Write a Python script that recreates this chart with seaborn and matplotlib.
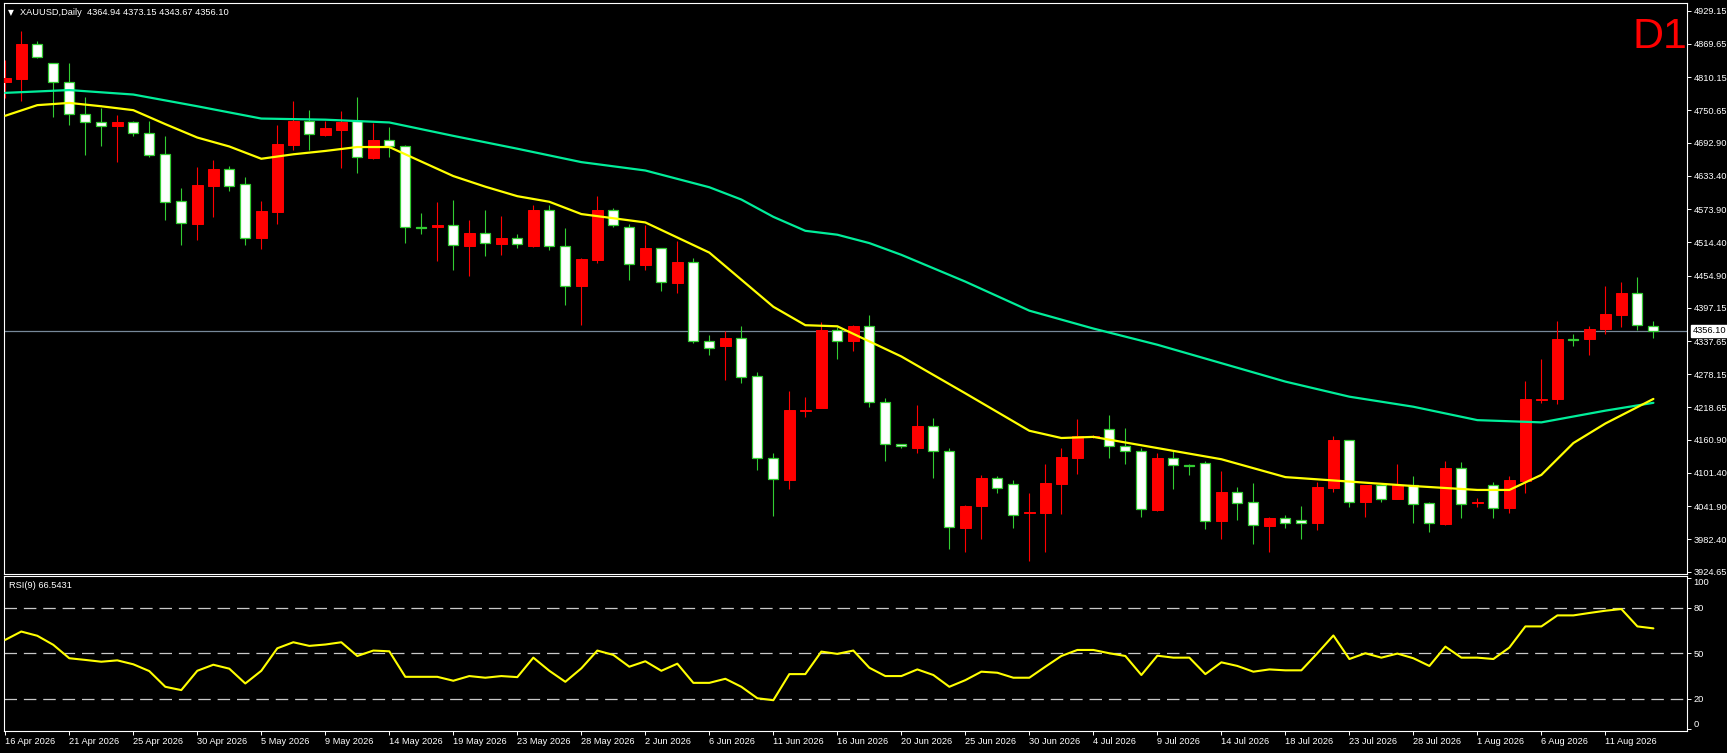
import numpy as np
import matplotlib
matplotlib.use("Agg")
import matplotlib.pyplot as plt
import matplotlib.transforms as mtransforms
import seaborn as sns

# DATA (one value per daily bar)

opens = [4801, 4807, 4870, 4835, 4801, 4744, 4729, 4722, 4729, 4710,
         4672, 4588, 4548, 4616, 4645, 4618, 4523, 4569, 4689, 4732,
         4707, 4716, 4732, 4666, 4697, 4686, 4541, 4541, 4545, 4508,
         4531, 4512, 4522, 4507, 4572, 4507, 4437, 4483, 4572, 4541,
         4474, 4504, 4442, 4479, 4337, 4329, 4343, 4275, 4129, 4089,
         4213, 4218, 4357, 4337, 4364, 4228, 4153, 4147, 4185, 4140,
         4003, 4043, 4092, 4081, 4029, 4030, 4082, 4129, 4165, 4181,
         4149, 4140, 4035, 4128, 4115, 4119, 4015, 4067, 4049, 4007,
         4020, 4017, 4012, 4075, 4160, 4049, 4080, 4055, 4080, 4047,
         4010, 4110, 4047, 4079, 4038, 4087, 4232, 4234, 4341, 4342,
         4359, 4385, 4423, 4364.94]
highs = [4841, 4892, 4875, 4835, 4836, 4775, 4754, 4742, 4732, 4732,
         4704, 4611, 4650, 4662, 4651, 4631, 4588, 4725, 4767, 4751,
         4732, 4750, 4775, 4728, 4721, 4689, 4567, 4587, 4590, 4554,
         4572, 4562, 4529, 4581, 4581, 4540, 4487, 4597, 4575, 4547,
         4545, 4504, 4517, 4486, 4348, 4356, 4365, 4282, 4137, 4248,
         4238, 4372, 4363, 4366, 4384, 4236, 4153, 4223, 4199, 4146,
         4044, 4098, 4096, 4089, 4065, 4117, 4146, 4198, 4170, 4205,
         4182, 4147, 4137, 4140, 4118, 4122, 4105, 4076, 4083, 4022,
         4026, 4042, 4085, 4168, 4160, 4080, 4080, 4118, 4096, 4050,
         4123, 4121, 4056, 4085, 4096, 4266, 4305, 4374, 4351, 4365,
         4436, 4443, 4452, 4373.15]
lows = [4772, 4768, 4845, 4738, 4725, 4670, 4686, 4659, 4705, 4668,
        4554, 4510, 4519, 4560, 4607, 4510, 4502, 4548, 4680, 4680,
        4705, 4648, 4639, 4664, 4668, 4513, 4529, 4481, 4465, 4454,
        4489, 4492, 4505, 4506, 4501, 4402, 4366, 4478, 4542, 4447,
        4464, 4428, 4424, 4335, 4313, 4268, 4263, 4107, 4025, 4073,
        4202, 4218, 4306, 4319, 4220, 4122, 4146, 4138, 4092, 3966,
        3960, 3983, 4065, 4002, 3944, 3960, 4028, 4100, 4164, 4129,
        4118, 4023, 4034, 4073, 4098, 4001, 3983, 4017, 3974, 3960,
        4003, 3983, 4000, 4068, 4041, 4023, 4050, 4055, 4012, 3996,
        4008, 4021, 4041, 4020, 4030, 4066, 4226, 4224, 4329, 4313,
        4351, 4362, 4357, 4343.67]
closes = [4809, 4870, 4847, 4801, 4744, 4729, 4722, 4729, 4710, 4671,
          4587, 4549, 4617, 4646, 4615, 4523, 4571, 4691, 4732, 4708,
          4719, 4730, 4667, 4698, 4686, 4541, 4540, 4545, 4509, 4531,
          4513, 4522, 4511, 4572, 4507, 4437, 4485, 4572, 4545, 4475,
          4504, 4443, 4479, 4337, 4325, 4343, 4274, 4129, 4090, 4214,
          4215, 4357, 4337, 4364, 4228, 4153, 4149, 4186, 4140, 4004,
          4042, 4092, 4074, 4027, 4031, 4083, 4130, 4168, 4168, 4149,
          4140, 4036, 4128, 4115, 4113, 4016, 4067, 4048, 4008, 4020,
          4012, 4012, 4076, 4160, 4050, 4080, 4054, 4080, 4046, 4011,
          4110, 4046, 4049, 4038, 4089, 4233, 4234, 4342, 4340, 4360,
          4386, 4423, 4366, 4356.10]

# moving averages, sampled on a few bars
ma_slow_bars = [0, 4, 8, 12, 16, 20, 24, 28, 32, 36, 40, 44, 46, 48, 50,
                52, 54, 56, 58, 60, 64, 68, 72, 76, 80, 84, 88, 92, 96,
                100, 103]
ma_slow = [4782, 4787, 4779, 4758, 4736, 4734, 4729, 4705, 4682, 4658,
           4643, 4613, 4591, 4560, 4535, 4528, 4513, 4492, 4468, 4444,
           4392, 4360, 4331, 4298, 4265, 4238, 4220, 4196, 4192, 4213,
           4227]
ma_fast_bars = [0, 2, 4, 6, 8, 10, 12, 14, 16, 18, 20, 22, 24, 26, 28,
                30, 32, 34, 36, 40, 44, 48, 50, 52, 56, 60, 64, 66, 68,
                72, 76, 80, 84, 88, 92, 94, 96, 98, 100, 103]
ma_fast = [4741, 4760, 4764, 4758, 4751, 4726, 4702, 4686, 4664, 4672,
           4678, 4685, 4685, 4659, 4633, 4614, 4597, 4587, 4565, 4550,
           4496, 4399, 4366, 4364, 4310, 4244, 4177, 4164, 4166, 4146,
           4126, 4094, 4086, 4078, 4071, 4071, 4098, 4155, 4190, 4234]

rsi = [58.9, 64.4, 61.6, 55.6, 46.7, 45.6, 44.4, 45.3, 42.7, 38.2,
       27.8, 25.6, 38.4, 42.4, 39.8, 30.0, 38.4, 53.3, 57.3, 54.9,
       55.8, 57.3, 48.2, 51.8, 51.3, 34.4, 34.4, 34.4, 31.8, 34.9,
       33.8, 34.9, 34.2, 47.1, 38.4, 31.1, 40.0, 51.8, 48.9, 41.1,
       44.7, 38.4, 43.1, 30.4, 30.4, 33.1, 27.8, 20.2, 18.9, 36.2,
       36.2, 51.1, 49.6, 51.8, 40.4, 34.9, 34.9, 39.3, 35.6, 27.8,
       32.2, 37.8, 37.1, 33.8, 33.8, 41.1, 48.2, 52.2, 52.2, 50.0,
       48.2, 35.6, 48.4, 47.1, 47.1, 36.2, 44.0, 41.6, 37.8, 39.3,
       38.7, 38.7, 50.0, 61.8, 46.2, 50.0, 47.1, 49.8, 46.7, 41.6,
       54.4, 47.1, 47.1, 46.2, 53.8, 67.8, 67.8, 75.1, 75.1, 76.7,
       78.2, 79.3, 67.8, 66.5]
rsi_levels = [80, 50, 20]
rsi_ticks = [0, 20, 50, 80, 100]

date_labels = ["16 Apr 2026", "21 Apr 2026", "25 Apr 2026", "30 Apr 2026",
               "5 May 2026", "9 May 2026", "14 May 2026", "19 May 2026",
               "23 May 2026", "28 May 2026", "2 Jun 2026", "6 Jun 2026",
               "11 Jun 2026", "16 Jun 2026", "20 Jun 2026", "25 Jun 2026",
               "30 Jun 2026", "4 Jul 2026", "9 Jul 2026", "14 Jul 2026",
               "18 Jul 2026", "23 Jul 2026", "28 Jul 2026", "1 Aug 2026",
               "6 Aug 2026", "11 Aug 2026"]
price_labels = ["4929.15", "4869.65", "4810.15", "4750.65", "4692.90",
                "4633.40", "4573.90", "4514.40", "4454.90", "4397.15",
                "4337.65", "4278.15", "4218.65", "4160.90", "4101.40",
                "4041.90", "3982.40", "3924.65"]

SYMBOL = "XAUUSD,Daily"
BULL = "#FF0000"
BEAR_EDGE = "#32CD32"
SLOW_COLOR = "#00EE9A"
FAST_COLOR = "#FFFF00"
W, H = 1727, 753


# STYLE

sns.set_theme(style="dark", rc={
    "figure.facecolor": "black",
    "axes.facecolor": "black",
    "axes.edgecolor": "white",
    "axes.grid": False,
    "text.color": "white",
    "xtick.color": "white",
    "ytick.color": "white",
})
plt.rcParams["font.family"] = ["Liberation Sans", "DejaVu Sans"]
FS = 6.7

fig = plt.figure(figsize=(W / 100, H / 100), dpi=100)
ax = fig.add_axes([4 / W, 1 - 574 / H, 1683 / W, 571 / H])
ax_rsi = fig.add_axes([4 / W, 1 - 731 / H, 1683 / W, 155 / H])

o = np.array(opens, dtype=float)
h = np.array(highs, dtype=float)
l = np.array(lows, dtype=float)
c = np.array(closes, dtype=float)
x = np.arange(len(o))
bull = c >= o

# CANDLES

last_close = closes[-1]
ax.axhline(last_close, color="#778899", lw=0.9, zorder=1)

ax.vlines(x, l, h, colors=np.where(bull, BULL, BEAR_EDGE), lw=0.8, zorder=2)
body_low = np.minimum(o, c)
body_h = np.maximum(np.abs(c - o), 0.3)
ax.bar(x[bull], body_h[bull], bottom=body_low[bull], width=0.66,
       color=BULL, edgecolor=BULL, linewidth=0.7, zorder=3)
ax.bar(x[~bull], body_h[~bull], bottom=body_low[~bull], width=0.62,
       color="white", edgecolor=BEAR_EDGE, linewidth=0.9, zorder=3)

sns.lineplot(x=ma_slow_bars, y=ma_slow, ax=ax, color=SLOW_COLOR,
             linewidth=1.6, zorder=4)
sns.lineplot(x=ma_fast_bars, y=ma_fast, ax=ax, color=FAST_COLOR,
             linewidth=1.6, zorder=4)

ax.set_xlim(-0.08, 105.1)
ax.set_ylim(3920.5, 4942.9)
ax.set_xlabel("")
ax.set_ylabel("")
ax.set_xticks([])
ax.yaxis.tick_right()
ax.set_yticks([float(p) for p in price_labels])
ax.set_yticklabels(price_labels)
ax.tick_params(axis="y", right=True, left=False, labelright=True,
               labelleft=False, direction="out", length=3, width=0.7,
               labelsize=FS, pad=1.5, colors="white")

# current price tag
tr = mtransforms.blended_transform_factory(ax.transAxes, ax.transData)
ax.text(1.0036, last_close, f"{last_close:.2f}", transform=tr, ha="left",
        va="center", color="black", fontsize=FS, zorder=6,
        bbox=dict(facecolor="white", edgecolor="white", pad=1.2))

# RSI

for lvl in rsi_levels:
    ax_rsi.axhline(lvl, color="#C8C8C8", lw=0.9, dashes=(10, 5.5), zorder=1)
sns.lineplot(x=x, y=rsi, ax=ax_rsi, color=FAST_COLOR, linewidth=1.5, zorder=3)

ax_rsi.set_xlim(-0.08, 105.1)
ax_rsi.set_ylim(-1.5, 101.2)
ax_rsi.set_xlabel("")
ax_rsi.set_ylabel("")
ax_rsi.yaxis.tick_right()
ax_rsi.set_yticks(rsi_ticks)
ax_rsi.set_yticklabels([str(t) for t in rsi_ticks])
ax_rsi.tick_params(axis="y", right=True, left=False, labelright=True,
                   labelleft=False, direction="out", length=3, width=0.7,
                   labelsize=FS, pad=1.5, colors="white")
for lbl in ax_rsi.get_yticklabels():
    if lbl.get_text() == "100":
        lbl.set_va("top")
    elif lbl.get_text() == "0":
        lbl.set_va("bottom")

ax_rsi.set_xticks(x[::4][:len(date_labels)])
ax_rsi.set_xticklabels(date_labels, ha="left")
ax_rsi.tick_params(axis="x", bottom=True, direction="out", length=3,
                   width=0.7, labelsize=FS, pad=1.5, colors="white")

for a in (ax, ax_rsi):
    for s in a.spines.values():
        s.set_color("white")
        s.set_linewidth(0.8)

# TEXTS

fig.text(8 / W, 1 - 13 / H, "\u25bc", fontsize=5.5, color="white",
         va="center", ha="left", family=["DejaVu Sans"])
fig.text(20 / W, 1 - 12.5 / H,
         f"{SYMBOL}  {opens[-1]:.2f} {highs[-1]:.2f} {lows[-1]:.2f} {closes[-1]:.2f}",
         fontsize=FS, color="white", va="center", ha="left")
fig.text(9 / W, 1 - 586 / H, f"RSI(9) 66.5431", fontsize=FS,
         color="white", va="center", ha="left")
fig.text(1687 / W, 1 - 17 / H, "D1", fontsize=31, color=BULL,
         va="top", ha="right")

fig.savefig("out.png", dpi=100, facecolor="black")
plt.close(fig)
